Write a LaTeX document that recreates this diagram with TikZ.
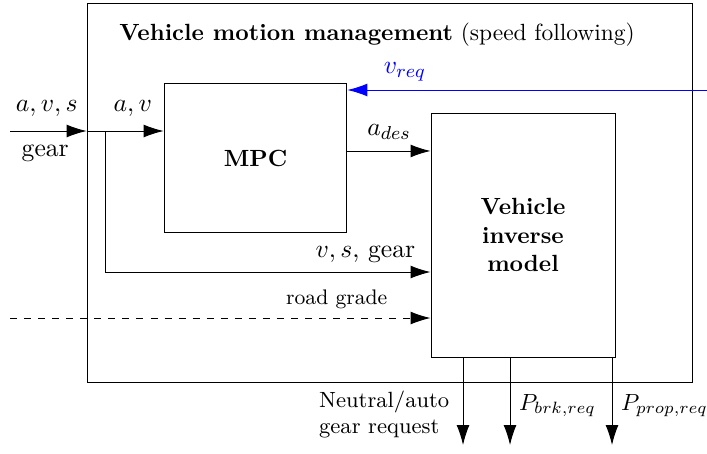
\documentclass[11pt,tikz,border=0pt]{standalone}
\usepackage{amsmath}
\usepackage{tikz}
\usetikzlibrary{positioning,arrows.meta,calc}

\begin{document}
\begin{tikzpicture}[
  x=0.427pt, y=-0.427pt,
  font=\normalsize,
  >={Latex[length=8.5pt,width=5.5pt]},
  blk/.style={draw, align=center, inner sep=0pt, font=\small},
  lbl/.style={font=\fontsize{9.4}{11.2}\selectfont, align=left},
  arr/.style={->},
]
\useasboundingbox (0,0) rectangle (707,453);
% blocks
\node[draw, minimum width=258.3pt, minimum height=161.8pt] (vmm) at (389.5,192.5) {};
\node[font=\small] (ttl) at (377,35) {\textbf{Vehicle motion management} (speed following)};
\node[blk, minimum width=78.1pt, minimum height=64pt] (mpc) at (255.5,158) {\textbf{MPC}};
\node[blk, minimum width=78.6pt, minimum height=104.2pt] (inv) at (523,235)
  {\textbf{Vehicle}\\\textbf{inverse}\\\textbf{model}};
% free ends
\coordinate (in) at (10,131);
\coordinate (sp) at (105,131);
\coordinate (vreq) at (707,90);
\coordinate (rg) at (10,318);
\coordinate (o1) at (463,445);
\coordinate (o2) at (510,445);
\coordinate (o3) at (612,445);
% inputs
\draw[arr] (in) -- (in -| vmm.west)
  node[pos=0.48, above, yshift=2.5pt] {$a, v, s$}
  node[pos=0.46, below, yshift=-2pt] {gear};
\draw[arr] (in -| vmm.west) -- (in -| mpc.west)
  node[pos=0.6, above, yshift=2.5pt] {$a, v$};
\draw[arr] (sp) |- ($(sp |- inv.west)+(0,37)$) -- ($(inv.west)+(0,37)$)
  node[pos=0.8, above] {$v, s$, gear};
\draw[arr, blue] (vreq) -- (vreq -| mpc.east) node[pos=0.84, above] {$v_{req}$};
\draw[arr] ([yshift=3pt]mpc.east) -- ([yshift=3pt]mpc.east -| inv.west)
  node[midway, above, yshift=1pt] {$a_{des}$};
\draw[arr, dashed] (rg) -- (rg -| inv.west)
  node[pos=0.777, above, font=\footnotesize] {road grade};
% outputs
\draw[arr] (o1 |- inv.south) -- (o1)
  node[lbl, pos=0.65, left, xshift=-2pt] {Neutral/auto\\gear request};
\draw[arr] (o2 |- inv.south) -- (o2) node[pos=0.55, right, font=\small] {$P_{brk,req}$};
\draw[arr] (o3 |- inv.south) -- (o3) node[pos=0.55, right, font=\small] {$P_{prop,req}$};
\end{tikzpicture}
\end{document}
